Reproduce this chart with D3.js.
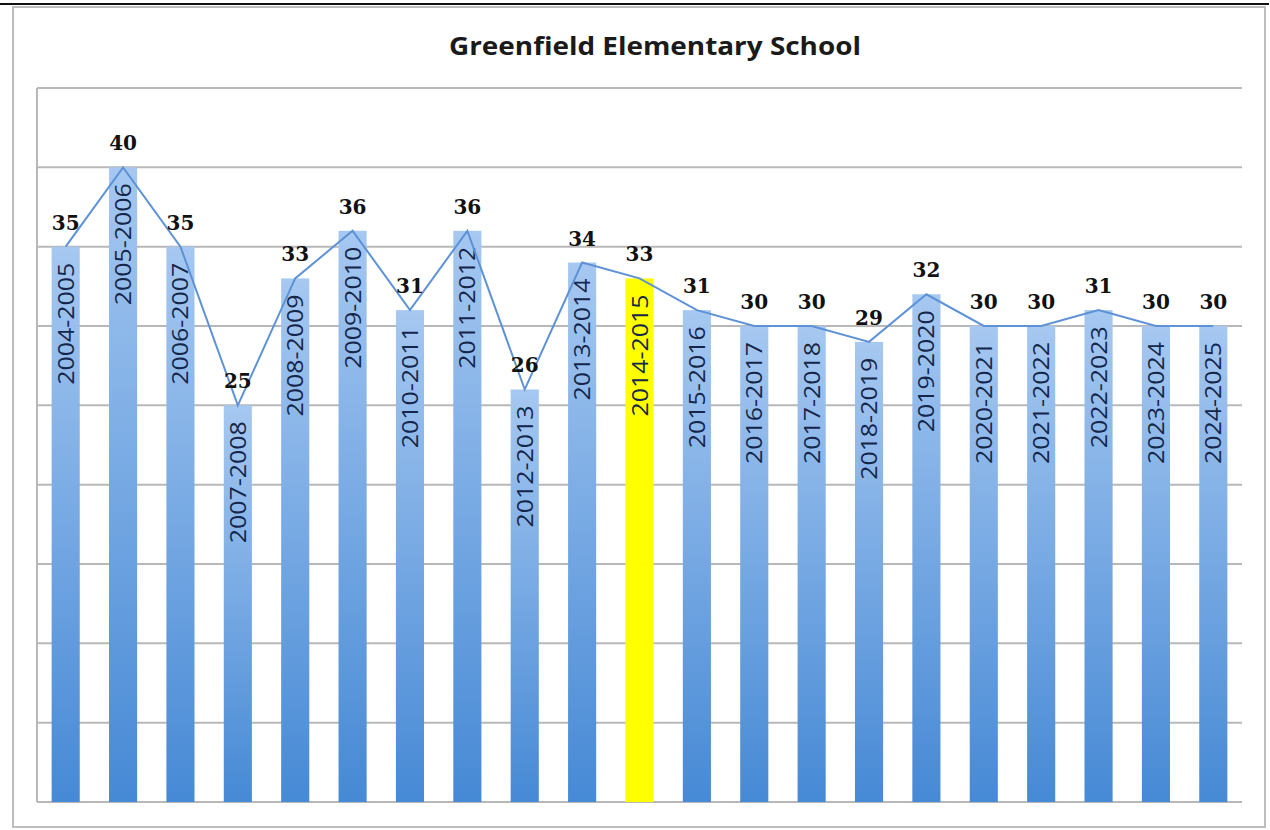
<!DOCTYPE html>
<html>
<head>
<meta charset="utf-8">
<script src="https://cdn.jsdelivr.net/npm/d3@7/dist/d3.min.js"></script>
<style>
  html, body { margin: 0; padding: 0; background: #ffffff; }
  svg { display: block; }
</style>
</head>
<body>
<svg id="chart" width="1270" height="830"></svg>
<script>
// School years and average class size per year
const years = [
  "2004-2005", "2005-2006", "2006-2007", "2007-2008", "2008-2009", "2009-2010",
  "2010-2011", "2011-2012", "2012-2013", "2013-2014", "2014-2015", "2015-2016",
  "2016-2017", "2017-2018", "2018-2019", "2019-2020", "2020-2021", "2021-2022",
  "2022-2023", "2023-2024", "2024-2025"
];
const classSize = [35, 40, 35, 25, 33, 36, 31, 36, 26, 34, 33, 31, 30, 30, 29, 32, 30, 30, 31, 30, 30];
const highlightYear = "2014-2015";
const yDomain = [0, 45];
const gridTicks = [0, 5, 10, 15, 20, 25, 30, 35, 40, 45];
const chartTitle = "Greenfield Elementary School";

const svg = d3.select("#chart");
const W = 1270, H = 830;
const plot = { left: 37, right: 1242, top: 88, bottom: 802 };

// Page rule at the very top and the chart frame
svg.append("line")
  .attr("x1", 0).attr("x2", 1269).attr("y1", 4).attr("y2", 4)
  .attr("stroke", "#111").attr("stroke-width", 2);
svg.append("rect")
  .attr("x", 13).attr("y", 7).attr("width", 1252).attr("height", 820)
  .attr("fill", "#ffffff").attr("stroke", "#bdbdbd").attr("stroke-width", 2);

const x = d3.scaleBand()
  .domain(years)
  .range([plot.left, plot.right])
  .paddingInner(0.51)
  .paddingOuter(0.255);

const y = d3.scaleLinear().domain(yDomain).range([plot.bottom, plot.top]);

// Bar gradient: light at the top, deeper blue at the base
const defs = svg.append("defs");
const grad = defs.append("linearGradient")
  .attr("id", "barGrad").attr("x1", 0).attr("y1", 0).attr("x2", 0).attr("y2", 1);
grad.append("stop").attr("offset", "0%").attr("stop-color", "#a6c8f1");
grad.append("stop").attr("offset", "100%").attr("stop-color", "#4689d5");

// Horizontal gridlines
svg.append("g")
  .selectAll("line")
  .data(gridTicks)
  .join("line")
  .attr("x1", plot.left).attr("x2", plot.right)
  .attr("y1", d => y(d)).attr("y2", d => y(d))
  .attr("stroke", "#b8b8b8").attr("stroke-width", 2);

// Value axis line on the left
svg.append("line")
  .attr("x1", plot.left).attr("x2", plot.left)
  .attr("y1", y(yDomain[1])).attr("y2", y(0))
  .attr("stroke", "#b8b8b8").attr("stroke-width", 2);

const data = years.map((yr, i) => ({ year: yr, value: classSize[i] }));

// Bars
svg.append("g")
  .selectAll("rect")
  .data(data)
  .join("rect")
  .attr("x", d => x(d.year))
  .attr("width", x.bandwidth())
  .attr("y", d => y(d.value))
  .attr("height", d => y(0) - y(d.value))
  .attr("fill", d => d.year === highlightYear ? "#ffff00" : "url(#barGrad)");

// Year labels written upward inside each bar
svg.append("g")
  .selectAll("text")
  .data(data)
  .join("text")
  .attr("transform", d => `translate(${x(d.year) + x.bandwidth() / 2 + 8},${y(d.value) + 16}) rotate(-90)`)
  .attr("text-anchor", "end")
  .attr("font-family", "'Open Sans', 'Liberation Sans', sans-serif")
  .attr("font-size", 22)
  .attr("fill", "#14264a")
  .attr("textLength", 122)
  .attr("lengthAdjust", "spacingAndGlyphs")
  .text(d => d.year);

// Trend line through the bar tops
const line = d3.line()
  .x(d => x(d.year) + x.bandwidth() / 2)
  .y(d => y(d.value));
svg.append("path")
  .datum(data)
  .attr("d", line)
  .attr("fill", "none")
  .attr("stroke", "#5e92d6")
  .attr("stroke-width", 2);

// Value labels above each point
svg.append("g")
  .selectAll("text")
  .data(data)
  .join("text")
  .attr("x", d => x(d.year) + x.bandwidth() / 2)
  .attr("y", d => y(d.value) - 17)
  .attr("text-anchor", "middle")
  .attr("font-family", "'DejaVu Serif', serif")
  .attr("font-weight", "bold")
  .attr("font-size", 20)
  .attr("fill", "#111")
  .text(d => d.value);

// Title
svg.append("text")
  .attr("x", 655)
  .attr("y", 55)
  .attr("text-anchor", "middle")
  .attr("font-family", "'Open Sans', 'Liberation Sans', sans-serif")
  .attr("font-weight", "bold")
  .attr("font-size", 25)
  .attr("fill", "#1a1a1a")
  .attr("textLength", 412)
  .attr("lengthAdjust", "spacingAndGlyphs")
  .text(chartTitle);
</script>
</body>
</html>
